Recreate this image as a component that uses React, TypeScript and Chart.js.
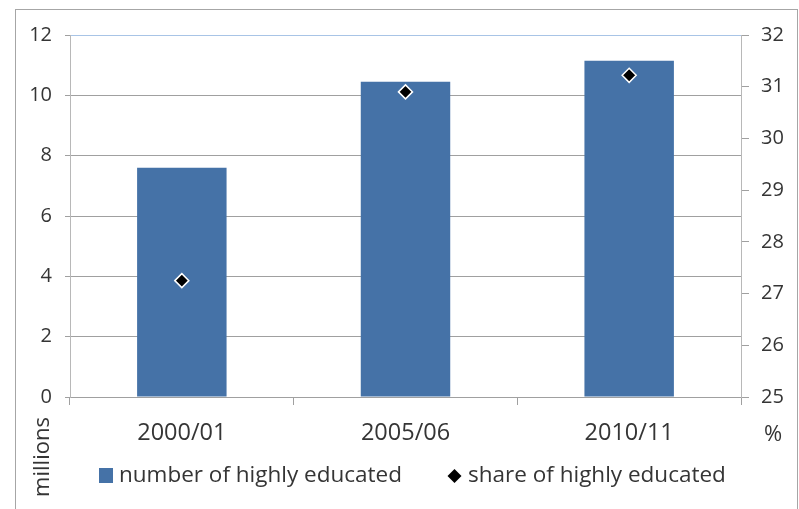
import React, { useEffect, useRef } from "react";
import { Chart, registerables } from "chart.js";

Chart.register(...registerables);

const categories = ["2000/01", "2005/06", "2010/11"];
const numberHighlyEducated = [7.6, 10.45, 11.15]; // millions
const shareHighlyEducated = [27.25, 30.9, 31.22]; // %
const leftTicks = [0, 2, 4, 6, 8, 10, 12];
const rightTicks = [25, 26, 27, 28, 29, 30, 31, 32];
const legendLabels = ["number of highly educated", "share of highly educated"];
const leftAxisTitle = "millions";
const rightAxisTitle = "%";

const FONT = "'Open Sans', 'DejaVu Sans', sans-serif";
const TEXT = "#353535";
const GRID = "#a0a0a0";
const BAR = "#4572a7";

const W = 799;
const H = 509;

const decorPlugin = {
  id: "decor",
  beforeDraw(chart: any) {
    const ctx = chart.ctx;
    ctx.save();
    ctx.fillStyle = "#ffffff";
    ctx.fillRect(0, 0, W, H);
    ctx.strokeStyle = "#a6a6a6";
    ctx.lineWidth = 1;
    ctx.strokeRect(15.5, 9.5, 782, 560);
    ctx.restore();
  },
  afterDraw(chart: any) {
    const ctx = chart.ctx;
    const area = chart.chartArea;
    ctx.save();
    ctx.fillStyle = TEXT;
    ctx.font = `22px ${FONT}`;
    ctx.textBaseline = "middle";

    // "%" under right axis
    ctx.textAlign = "center";
    ctx.fillText(rightAxisTitle, area.right + 32, area.bottom + 38);

    // "millions" rotated
    ctx.save();
    ctx.translate(area.left - 27, area.bottom + 60);
    ctx.rotate(-Math.PI / 2);
    ctx.textAlign = "center";
    ctx.fillText(leftAxisTitle, 0, 0);
    ctx.restore();

    // legend
    const ly = area.bottom + 79;
    ctx.font = `22.5px ${FONT}`;
    ctx.fillStyle = BAR;
    ctx.fillRect(99, ly - 8, 14, 15);
    ctx.fillStyle = TEXT;
    ctx.textAlign = "left";
    ctx.fillText(legendLabels[0], 119, ly);

    ctx.fillStyle = "#000";
    ctx.beginPath();
    const cx = 454.5;
    const r = 7;
    ctx.moveTo(cx, ly - r);
    ctx.lineTo(cx + r, ly);
    ctx.lineTo(cx, ly + r);
    ctx.lineTo(cx - r, ly);
    ctx.closePath();
    ctx.fill();
    ctx.fillStyle = TEXT;
    ctx.fillText(legendLabels[1], 468, ly);
    ctx.restore();
  },
};

export default function App() {
  const ref = useRef<HTMLCanvasElement | null>(null);

  useEffect(() => {
    if (!ref.current) return;
    const chart = new Chart(ref.current, {
      type: "bar",
      data: {
        labels: categories,
        datasets: [
          {
            type: "line",
            label: legendLabels[1],
            data: shareHighlyEducated,
            yAxisID: "y1",
            showLine: false,
            pointStyle: "rectRot",
            pointRadius: 7,
            pointBackgroundColor: "#000000",
            pointBorderColor: "#ffffff",
            pointBorderWidth: 1.5,
            order: 0,
          } as any,
          {
            type: "bar",
            label: legendLabels[0],
            data: numberHighlyEducated,
            yAxisID: "y",
            backgroundColor: BAR,
            borderWidth: 0,
            barPercentage: 0.4,
            categoryPercentage: 1,
            order: 1,
          },
        ],
      },
      options: {
        responsive: false,
        animation: false,
        layout: { padding: { top: 35, left: 0, right: 0, bottom: 0 } },
        plugins: {
          legend: { display: false },
          tooltip: { enabled: false },
        },
        scales: {
          x: {
            type: "category",
            offset: true,
            grid: {
              offset: true,
              drawOnChartArea: false,
              drawTicks: true,
              tickLength: 8,
              tickColor: GRID,
            },
            border: { display: true, color: GRID },
            ticks: {
              color: TEXT,
              font: { family: FONT, size: 23.5 },
              padding: 14,
              maxRotation: 0,
            },
            afterFit: (s: any) => {
              s.height = 112;
            },
          },
          y: {
            position: "left",
            min: 0,
            max: 12,
            afterBuildTicks: (s: any) => {
              s.ticks = leftTicks.map((v) => ({ value: v }));
            },
            grid: {
              color: (c: any) =>
                c.tick && c.tick.value === 12 ? "#a8c4e6" : GRID,
              tickColor: GRID,
              tickLength: 5,
            },
            border: { display: true, color: "#b8b8b8" },
            ticks: {
              color: TEXT,
              font: { family: FONT, size: 20 },
              padding: 13,
            },
            afterFit: (s: any) => {
              s.width = 70;
            },
          },
          y1: {
            position: "right",
            min: 25,
            max: 32,
            afterBuildTicks: (s: any) => {
              s.ticks = rightTicks.map((v) => ({ value: v }));
            },
            grid: {
              drawOnChartArea: false,
              tickColor: GRID,
              tickLength: 8,
            },
            border: { display: true, color: "#b8b8b8" },
            ticks: {
              color: TEXT,
              font: { family: FONT, size: 20 },
              padding: 12,
            },
            afterFit: (s: any) => {
              s.width = 58;
            },
          },
        },
      },
      plugins: [decorPlugin],
    });
    return () => chart.destroy();
  }, []);

  return (
    <div style={{ position: "absolute", left: 0, top: 0, width: W, height: H }}>
      <canvas ref={ref} width={W} height={H} style={{ width: W, height: H, display: "block" }} />
    </div>
  );
}
